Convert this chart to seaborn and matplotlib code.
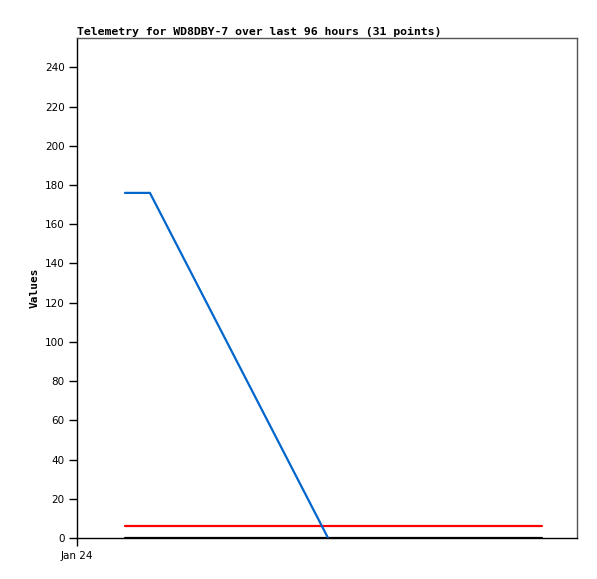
import pandas as pd
import numpy as np
import matplotlib
matplotlib.use("Agg")
import matplotlib.pyplot as plt
import seaborn as sns

# Data (hours since Jan 24 00:00)
blue_hours = [9.2, 14.0, 48.2]
blue_values = [176, 176, 0]
red_hours = [9.2, 89.3]
red_values = [6, 6]
black_hours = [9.2, 89.3]
black_values = [0, 0]

x_ticks = [0]
x_tick_labels = ["Jan 24"]
y_ticks = list(range(0, 241, 20))

df = pd.concat([
    pd.DataFrame({"hours": black_hours, "value": black_values, "series": "black"}),
    pd.DataFrame({"hours": red_hours, "value": red_values, "series": "red"}),
    pd.DataFrame({"hours": blue_hours, "value": blue_values, "series": "blue"}),
])

sns.set_style("white")
plt.rcParams['font.family'] = ['DejaVu Sans Mono', 'DejaVu Sans']
plt.rcParams['text.color'] = 'black'
plt.rcParams['axes.labelcolor'] = 'black'
plt.rcParams['xtick.color'] = 'black'
plt.rcParams['ytick.color'] = 'black'

fig = plt.figure(figsize=(5.97, 5.79), dpi=100)
ax = fig.add_axes([0.129, 0.0708, 0.8375, 0.8636])

palette = {"black": "#000000", "red": "#ff0000", "blue": "#0066cc"}
sns.lineplot(data=df, x="hours", y="value", hue="series", palette=palette,
             linewidth=1.6, legend=False, ax=ax, sort=False, estimator=None)

ax.set_xlim(0, 96)
ax.set_ylim(0, 255)
ax.set_xticks(x_ticks)
ax.set_xticklabels(x_tick_labels)
ax.set_yticks(y_ticks)
ax.tick_params(axis="both", direction="out", length=6, width=1, color="black",
               labelsize=7.5, pad=3, left=True, bottom=True)
for lbl in ax.get_xticklabels() + ax.get_yticklabels():
    lbl.set_family("DejaVu Sans")

ax.spines["left"].set_color("black")
ax.spines["bottom"].set_color("black")
ax.spines["top"].set_color("#555555")
ax.spines["right"].set_color("#555555")
for s in ax.spines.values():
    s.set_linewidth(1)

ax.set_xlabel("")
ax.set_ylabel("Values", fontsize=8, fontweight="bold", labelpad=4)
ax.set_title("Telemetry for WD8DBY-7 over last 96 hours (31 points)",
             fontsize=8.25, fontweight="bold", loc="left", pad=2)

fig.savefig("out.png", dpi=100)
